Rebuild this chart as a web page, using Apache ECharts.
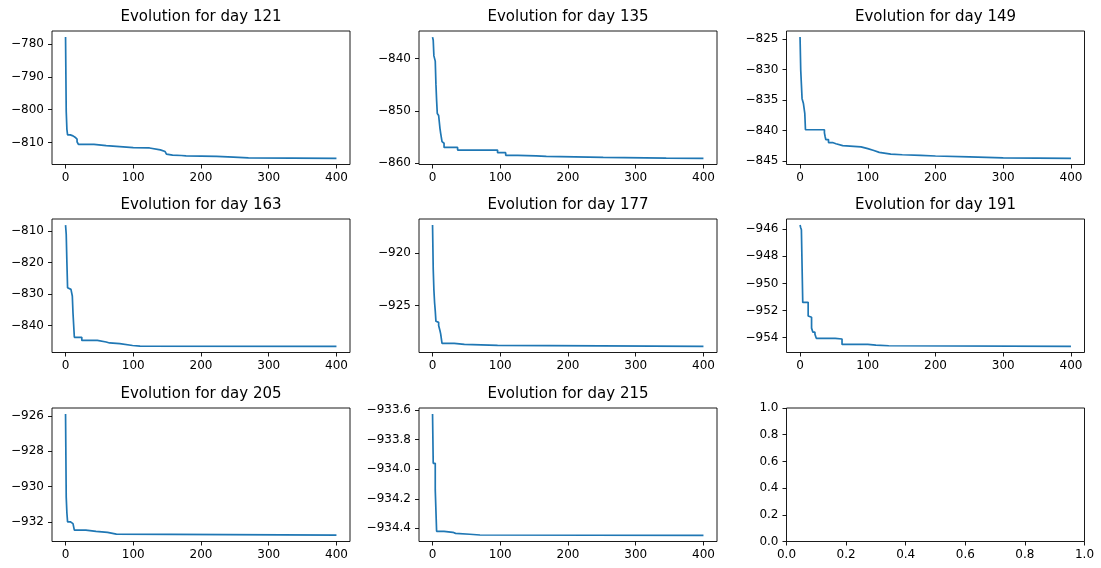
<!DOCTYPE html>
<html><head><meta charset="utf-8">
<style>html,body{margin:0;padding:0;background:#fff}#c{width:1101px;height:568px}</style>
<script src="https://cdn.jsdelivr.net/npm/echarts@6/dist/echarts.min.js"></script>
</head><body><div id="c"></div>
<script>
const days = [121, 135, 149, 163, 177, 191, 205, 215];

const iters121 = [0,1,2,3,7,11,14,17,19,42,60,80,100,124,140,147,149,151,158,171,178,223,248,270,400];
const vals121  = [-777.8,-800.5,-806.0,-807.7,-808.0,-808.4,-809.0,-809.8,-810.6,-811.0,-811.3,-811.6,-811.7,-812.3,-812.8,-813.2,-813.6,-813.9,-814.0,-814.1,-814.3,-814.5,-814.7,-814.9,-814.9];

const iters135 = [0,1,2,4,5,6,7,9,11,12,14,15,17,37,96,108,126,153,168,252,345,400];
const vals135  = [-835.9,-836.5,-839.5,-840.5,-844.9,-848.0,-850.5,-850.9,-853.4,-854.3,-855.9,-856.2,-857.0,-857.5,-858.0,-858.5,-858.6,-858.7,-858.9,-859.05,-859.1,-859.1];

const iters149 = [0,1,3,5,7,8,36,37,38,42,48,53,63,90,100,109,117,134,151,178,200,250,300,400];
const vals149  = [-824.7,-830.1,-834.8,-835.6,-837.2,-839.9,-840.4,-841.0,-841.5,-842.0,-842.2,-842.5,-842.7,-843.0,-843.3,-843.6,-843.9,-844.0,-844.1,-844.2,-844.35,-844.5,-844.6,-844.6];

const iters163 = [0,1,2,3,5,8,10,11,13,24,47,60,65,80,99,110,400];
const vals163  = [-808.1,-811.0,-820.0,-828.0,-828.5,-829.0,-830.6,-836.0,-843.7,-844.7,-845.2,-845.5,-845.7,-846.3,-846.5,-846.6,-846.6];

const iters177 = [0,1,2,3,4,5,7,9,11,12,14,32,47,96,400];
const vals177  = [-917.3,-921.5,-923.5,-924.7,-925.5,-926.5,-926.6,-926.9,-927.4,-927.7,-928.6,-928.7,-928.8,-928.9,-928.9];

const iters191 = [0,1,2,4,12,14,17,19,22,24,52,62,100,112,131,400];
const vals191  = [-945.7,-945.9,-946.05,-951.4,-952.4,-952.5,-953.3,-953.6,-953.75,-954.05,-954.1,-954.5,-954.55,-954.6,-954.65,-954.65];

const iters205 = [0,1,2,3,7,9,11,13,30,45,62,75,400];
const vals205  = [-925.9,-930.6,-931.5,-932.0,-932.04,-932.1,-932.2,-932.47,-932.54,-932.6,-932.7,-932.75,-932.77];

const iters215 = [0,1,4,6,17,30,34,55,70,400];
const vals215  = [-933.627,-933.96,-934.14,-934.42,-934.427,-934.434,-934.44,-934.445,-934.447,-934.448];

const yTicks121 = [-810,-800,-790,-780];
const yTicks135 = [-860,-850,-840];
const yTicks149 = [-845,-840,-835,-830,-825];
const yTicks163 = [-840,-830,-820,-810];
const yTicks177 = [-925,-920];
const yTicks191 = [-954,-952,-950,-948,-946];
const yTicks205 = [-932,-930,-928,-926];
const yTicks215 = [-934.4,-934.2,-934.0,-933.8,-933.6];
const xTicks = [0,100,200,300,400];
const emptyTicks = [0,0.2,0.4,0.6,0.8,1.0];

const panels = [
  {day: days[0], it: iters121, v: vals121, yt: yTicks121, dec: 0},
  {day: days[1], it: iters135, v: vals135, yt: yTicks135, dec: 0},
  {day: days[2], it: iters149, v: vals149, yt: yTicks149, dec: 0},
  {day: days[3], it: iters163, v: vals163, yt: yTicks163, dec: 0},
  {day: days[4], it: iters177, v: vals177, yt: yTicks177, dec: 0},
  {day: days[5], it: iters191, v: vals191, yt: yTicks191, dec: 0},
  {day: days[6], it: iters205, v: vals205, yt: yTicks205, dec: 0},
  {day: days[7], it: iters215, v: vals215, yt: yTicks215, dec: 1}
];

const FONT = 'DejaVu Sans';
const lefts = [52, 419, 786.5];
const tops = [31, 219, 408];
const W = 298, H = 133.5;

function fmt(dec) {
  return function (val) { return Number(val).toFixed(dec).replace('-', '\u2212'); };
}

const grids = [], xAxes = [], yAxes = [], series = [], titles = [];
function axisCommon(ticks, dec, isY) {
  return {
    type: 'value',
    position: isY ? 'left' : 'bottom',
    splitLine: {show: false},
    axisLine: {show: false, onZero: false},
    axisTick: {show: true, inside: false, length: 4, lineStyle: {color: '#000', width: 0.9}, customValues: ticks},
    axisLabel: {show: true, customValues: ticks, formatter: fmt(dec), color: '#000',
      fontFamily: FONT, fontSize: 12, margin: isY ? 8 : 7, showMinLabel: true, showMaxLabel: true, hideOverlap: false}
  };
}

for (let k = 0; k < 9; k++) {
  const r = Math.floor(k / 3), c = k % 3;
  grids.push({left: lefts[c], top: tops[r], width: W, height: H, show: true,
    borderColor: '#000', borderWidth: 0.9, backgroundColor: 'transparent', containLabel: false});
  if (k < 8) {
    const p = panels[k];
    const dmin = Math.min(...p.v), dmax = Math.max(...p.v);
    const pad = (dmax - dmin) * 0.05;
    const xmin = Math.min(...p.it), xmax = Math.max(...p.it);
    const xpad = (xmax - xmin) * 0.05;
    xAxes.push(Object.assign(axisCommon(xTicks, 0, false), {gridIndex: k, min: xmin - xpad, max: xmax + xpad}));
    yAxes.push(Object.assign(axisCommon(p.yt, p.dec, true), {gridIndex: k, min: dmin - pad, max: dmax + pad}));
    series.push({type: 'line', xAxisIndex: k, yAxisIndex: k, step: 'end', showSymbol: false, symbol: 'none',
      animation: false, lineStyle: {color: '#1f77b4', width: 1.7}, itemStyle: {color: '#1f77b4'},
      data: p.it.map((x, i) => [x, p.v[i]])});
    titles.push({text: 'Evolution for day ' + p.day, left: lefts[c] + W / 2, top: tops[r] - 21,
      textAlign: 'center', padding: 0,
      textStyle: {fontFamily: FONT, fontSize: 15, fontWeight: 'normal', color: '#000'}});
  } else {
    xAxes.push(Object.assign(axisCommon(emptyTicks, 1, false), {gridIndex: k, min: 0, max: 1}));
    yAxes.push(Object.assign(axisCommon(emptyTicks, 1, true), {gridIndex: k, min: 0, max: 1}));
    series.push({type: 'line', xAxisIndex: k, yAxisIndex: k, showSymbol: false, data: []});
  }
}

const chart = echarts.init(document.getElementById('c'), null, {renderer: 'canvas'});
chart.setOption({
  animation: false,
  backgroundColor: '#fff',
  title: titles,
  grid: grids,
  xAxis: xAxes,
  yAxis: yAxes,
  series: series
});
</script>
</body></html>
